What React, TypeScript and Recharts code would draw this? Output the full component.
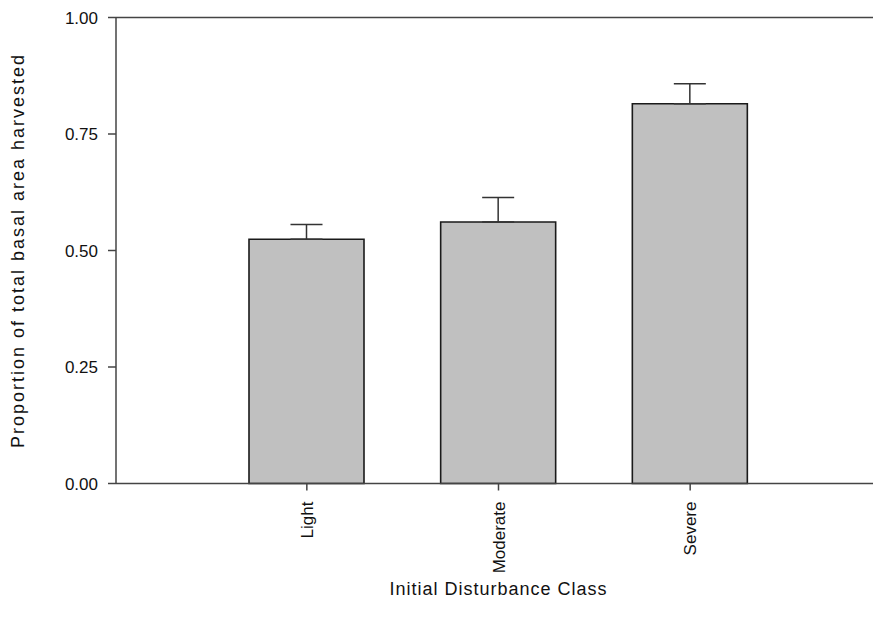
import React from "react";
import {
  BarChart,
  Bar,
  XAxis,
  YAxis,
  ErrorBar,
  ReferenceLine,
} from "recharts";

const CLASSES = ["Light", "Moderate", "Severe"];
const PROPORTION = [0.524, 0.561, 0.815];
const SE_UPPER = [0.032, 0.053, 0.043];
const Y_TICKS = [0, 0.25, 0.5, 0.75, 1];

const FONT = "'Liberation Sans', Arial, sans-serif";
const AXIS_COLOR = "#444";

const data = CLASSES.map((name, i) => ({
  name,
  value: PROPORTION[i],
  err: [0, SE_UPPER[i]],
}));

function RotatedTick(props: any) {
  const { x, y, payload } = props;
  const ty = y + 9;
  return (
    <text
      x={x}
      y={ty}
      dy="0.36em"
      transform={`rotate(-90, ${x}, ${ty})`}
      textAnchor="end"
      fontSize={17}
      fontFamily={FONT}
      fill="#111"
    >
      {payload.value}
    </text>
  );
}

export default function App() {
  return (
    <div style={{ position: "absolute", left: 0, top: 0, background: "#fff" }}>
      <BarChart
        width={873}
        height={630}
        data={data}
        margin={{ top: 17.5, right: 0, left: 0, bottom: 0 }}
        barSize={115}
      >
        <ReferenceLine y={1} stroke={AXIS_COLOR} strokeWidth={1.5} />
        <XAxis
          dataKey="name"
          height={146.5}
          padding={{ left: 95, right: 87 }}
          tickSize={7}
          tickLine={{ stroke: AXIS_COLOR, strokeWidth: 1.5 }}
          axisLine={{ stroke: AXIS_COLOR, strokeWidth: 1.5 }}
          tick={<RotatedTick />}
          interval={0}
          label={{
            value: "Initial Disturbance Class",
            position: "insideBottom",
            offset: 35,
            dx: 4,
            style: {
              fontSize: 18,
              fontFamily: FONT,
              fill: "#111",
              letterSpacing: 1,
            },
          }}
        />
        <YAxis
          width={116}
          domain={[0, 1]}
          ticks={Y_TICKS}
          tickFormatter={(v: number) => v.toFixed(2)}
          tickSize={8}
          tickMargin={10}
          tickLine={{ stroke: AXIS_COLOR, strokeWidth: 1.5 }}
          axisLine={{ stroke: AXIS_COLOR, strokeWidth: 1.5 }}
          tick={{ fontSize: 17, fontFamily: FONT, fill: "#111" }}
          label={{
            value: "Proportion of total basal area harvested",
            angle: -90,
            position: "insideLeft",
            offset: 18,
            style: {
              textAnchor: "middle",
              fontSize: 18,
              fontFamily: FONT,
              fill: "#111",
              letterSpacing: 2,
            },
          }}
        />
        <Bar
          dataKey="value"
          fill="#c0c0c0"
          stroke="#1a1a1a"
          strokeWidth={1.6}
          isAnimationActive={false}
        >
          <ErrorBar
            dataKey="err"
            direction="y"
            width={16}
            stroke="#333"
            strokeWidth={1.5}
            isAnimationActive={false}
          />
        </Bar>
      </BarChart>
    </div>
  );
}
